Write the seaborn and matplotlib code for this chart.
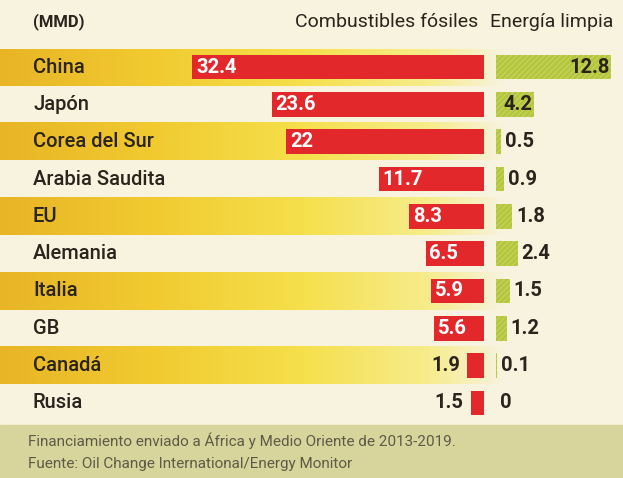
import numpy as np
import pandas as pd
import seaborn as sns
import matplotlib.pyplot as plt
from matplotlib.colors import LinearSegmentedColormap
from matplotlib.patches import Rectangle
import matplotlib.transforms as mtransforms

# data (miles de millones de dólares)
paises = ['China', 'Japón', 'Corea del Sur', 'Arabia Saudita', 'EU',
          'Alemania', 'Italia', 'GB', 'Canadá', 'Rusia']
fosiles = [32.4, 23.6, 22, 11.7, 8.3, 6.5, 5.9, 5.6, 1.9, 1.5]
limpia = [12.8, 4.2, 0.5, 0.9, 1.8, 2.4, 1.5, 1.2, 0.1, 0]
etiq_fosiles = ['32.4', '23.6', '22', '11.7', '8.3', '6.5', '5.9', '5.6', '1.9', '1.5']
etiq_limpia = ['12.8', '4.2', '0.5', '0.9', '1.8', '2.4', '1.5', '1.2', '0.1', '0']

df = pd.DataFrame({'pais': paises, 'fosiles': fosiles, 'limpia': limpia})

sns.set_theme(style='white')
plt.rcParams['font.family'] = ['Roboto', 'DejaVu Sans']
plt.rcParams['hatch.linewidth'] = 0.8

BG = '#f7f3df'
RED = '#e3282c'
GREEN = '#b4c63c'
INK = '#2a241d'

W, H = 623, 478
fig = plt.figure(figsize=(W / 100, H / 100), dpi=100, facecolor=BG)

# rows area in pixels
top_px, bot_px = 48.5, 421.5
b = 1 - bot_px / H
h = (bot_px - top_px) / H
n = len(paises)

# background axes (alternating bands)
ax_bg = fig.add_axes([0, b, 1, h])
band = LinearSegmentedColormap.from_list('band', [
    (0.0, '#e8b526'), (0.3, '#f1ca30'), (0.6, '#f5e04c'),
    (0.85, '#f7ec8c'), (1.0, BG)])
grad = np.linspace(0, 1, 256)[None, :]
for i in range(0, n, 2):
    ax_bg.imshow(grad, cmap=band, extent=[0, 505, i + 0.5, i - 0.5],
                 aspect='auto', interpolation='bilinear')
ax_bg.set_xlim(0, W)
ax_bg.set_ylim(n - 0.5, -0.5)
ax_bg.axis('off')

# footer band
fig.patches.append(Rectangle((0, 0), 1, 1 - 425 / H, transform=fig.transFigure,
                             color='#d8d59c', zorder=0))

scale = 9.0  # px per unit
xl = 484
ax_l = fig.add_axes([0, b, xl / W, h])
sns.barplot(data=df, x='fosiles', y='pais', orient='h', color=RED,
            width=0.66, saturation=1, linewidth=0, ax=ax_l)
ax_l.set_xlim(xl / scale, 0)
ax_l.set_ylim(n - 0.5, -0.5)
ax_l.patch.set_alpha(0)
ax_l.axis('off')

xr = 496
ax_r = fig.add_axes([xr / W, b, (W - xr) / W, h])
sns.barplot(data=df, x='limpia', y='pais', orient='h', color=GREEN,
            width=0.66, saturation=1, linewidth=0, ax=ax_r)
for p in ax_r.patches:
    p.set_hatch('//////')
    p.set_edgecolor('#c6d463')
    p.set_linewidth(0)
ax_r.set_xlim(0, (W - xr) / scale)
ax_r.set_ylim(n - 0.5, -0.5)
ax_r.patch.set_alpha(0)
ax_r.axis('off')

# country labels
tr = mtransforms.blended_transform_factory(fig.transFigure, ax_l.transData)
for i, p in enumerate(paises):
    ax_l.text(33 / W, i, p, transform=tr, ha='left', va='center',
              fontsize=14.5, fontweight='medium', color=INK)

# value labels
pad = 4 / scale
for i, (v, s) in enumerate(zip(fosiles, etiq_fosiles)):
    if v >= 5:
        ax_l.text(v - pad, i, s, ha='left', va='center', fontsize=14.5,
                  fontweight='bold', color='white')
    else:
        ax_l.text(v + 7 / scale, i, s, ha='right', va='center', fontsize=14.5,
                  fontweight='bold', color=INK)
for i, (v, s) in enumerate(zip(limpia, etiq_limpia)):
    if v >= 4:
        ax_r.text(v - 1 / scale, i, s, ha='right', va='center', fontsize=14.5,
                  fontweight='bold', color=INK)
    else:
        ax_r.text(v + pad, i, s, ha='left', va='center', fontsize=14.5,
                  fontweight='bold', color=INK)

# header
fig.text(33 / W, 1 - 22 / H, '(MMD)', ha='left', va='center', fontsize=12,
         fontweight='bold', color=INK)
fig.text(478 / W, 1 - 22 / H, 'Combustibles fósiles', ha='right', va='center',
         fontsize=14, color=INK)
fig.text(490 / W, 1 - 22 / H, 'Energía limpia', ha='left', va='center',
         fontsize=14, color=INK)

# footer
fig.text(28 / W, 1 - 441 / H, 'Financiamiento enviado a África y Medio Oriente de 2013-2019.',
         ha='left', va='center', fontsize=11, color='#5e5a48')
fig.text(28 / W, 1 - 464 / H, 'Fuente: Oil Change International/Energy Monitor',
         ha='left', va='center', fontsize=11, color='#5e5a48')

fig.savefig('out.png', dpi=100, facecolor=BG)
